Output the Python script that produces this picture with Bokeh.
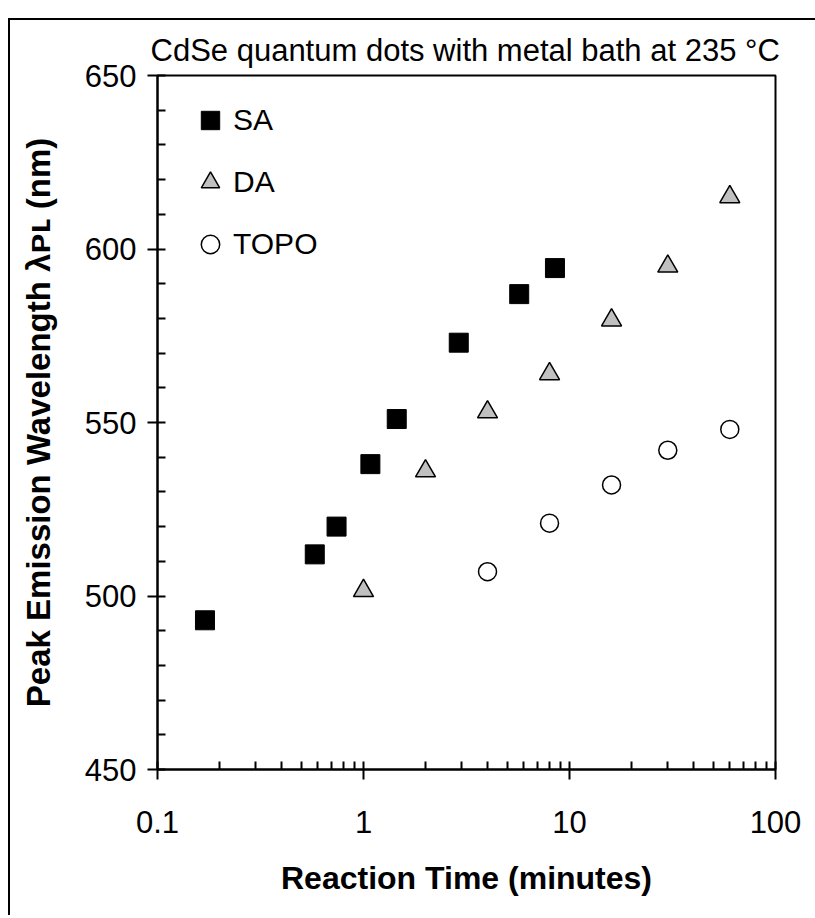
from bokeh.plotting import figure
from bokeh.models import FixedTicker, Range1d, Legend, LegendItem
from bokeh.embed import file_html
from bokeh.resources import INLINE

# ---- data ----
sa_time = [0.17, 0.58, 0.74, 1.08, 1.45, 2.9, 5.7, 8.5]
sa_wl = [493, 512, 520, 538, 551, 573, 587, 594.5]
da_time = [1, 2, 4, 8, 16, 30, 60]
da_wl = [501.5, 536, 553, 564, 579.5, 595, 615]
topo_time = [4, 8, 16, 30, 60]
topo_wl = [507, 521, 532, 542, 548]

x_major = [0.1, 1, 10, 100]
x_labels = ["0.1", "1", "10", "100"]
x_minor = [m * d for d in (0.1, 1, 10) for m in range(2, 10)]
y_major = [450, 500, 550, 600, 650]
y_minor = list(range(450, 651, 10))

title_text = "CdSe quantum dots with metal bath at 235 \u00b0C"
x_title = "Reaction Time (minutes)"
y_title = "Peak Emission Wavelength \u03bb\u1d18\u029f (nm)"

FONT = "Liberation Sans"

p = figure(x_axis_type="log", x_range=Range1d(0.1, 100), y_range=Range1d(450, 650),
           frame_width=618, frame_height=694,
           min_border_left=147, min_border_right=40, min_border_top=55, min_border_bottom=146,
           output_backend="svg", toolbar_location=None)
p.margin = (18, 0, 0, 8)
p.styles = {"border-top": "2px solid black", "border-left": "2px solid black"}

p.background_fill_color = "white"
p.border_fill_color = "white"
p.outline_line_color = "black"
p.outline_line_width = 2
p.xgrid.visible = False
p.ygrid.visible = False

# title
p.title.text = title_text
p.title.align = "left"
p.title.offset = -7
p.title.standoff = 16
p.title.text_font = FONT
p.title.text_font_size = "31px"
p.title.text_font_style = "normal"
p.title.text_color = "black"

# x axis
xa = p.xaxis[0]
xa.ticker = FixedTicker(ticks=x_major, minor_ticks=x_minor)
xa.major_label_overrides = {v: s for v, s in zip(x_major, x_labels)}
xa.axis_line_width = 2
xa.major_tick_line_width = 2
xa.minor_tick_line_width = 2
xa.major_tick_in = 8
xa.major_tick_out = 10
xa.minor_tick_in = 8
xa.minor_tick_out = 0
xa.major_label_text_font = FONT
xa.major_label_text_font_size = "31px"
xa.major_label_text_color = "black"
xa.major_label_standoff = 31
xa.axis_label = x_title
xa.axis_label_text_font = FONT
xa.axis_label_text_font_size = "32px"
xa.axis_label_text_font_style = "bold"
xa.axis_label_text_color = "black"
xa.axis_label_standoff = 24

# y axis
ya = p.yaxis[0]
ya.ticker = FixedTicker(ticks=y_major, minor_ticks=y_minor)
ya.axis_line_width = 2
ya.major_tick_line_width = 2
ya.minor_tick_line_width = 2
ya.major_tick_in = 0
ya.major_tick_out = 10
ya.minor_tick_in = 8
ya.minor_tick_out = 0
ya.major_label_text_font = FONT
ya.major_label_text_font_size = "31px"
ya.major_label_text_color = "black"
ya.major_label_standoff = 11
ya.axis_label = y_title
ya.axis_label_text_font = FONT
ya.axis_label_text_font_size = "33px"
ya.axis_label_text_font_style = "bold"
ya.axis_label_text_color = "black"
ya.axis_label_standoff = 25

# data
r_sa = p.scatter(sa_time, sa_wl, marker="square", size=19, fill_color="black",
                 line_color="black", line_width=1)
r_da = p.scatter(da_time, da_wl, marker="triangle", size=20, fill_color="#c0c0c0",
                 line_color="black", line_width=1.5)
r_topo = p.scatter(topo_time, topo_wl, marker="circle", size=18, fill_color="white",
                   line_color="black", line_width=1.5)

legend = Legend(items=[LegendItem(label="SA", renderers=[r_sa]),
                       LegendItem(label="DA", renderers=[r_da]),
                       LegendItem(label="TOPO", renderers=[r_topo])],
                location=(30, 500), orientation="vertical",
                glyph_width=46, glyph_height=50, spacing=12, padding=0, margin=0,
                label_standoff=-4, label_text_font=FONT, label_text_font_size="30px",
                label_text_color="black",
                border_line_alpha=0, background_fill_alpha=0)
p.add_layout(legend)

open("out.html", "w").write(file_html(p, INLINE))
